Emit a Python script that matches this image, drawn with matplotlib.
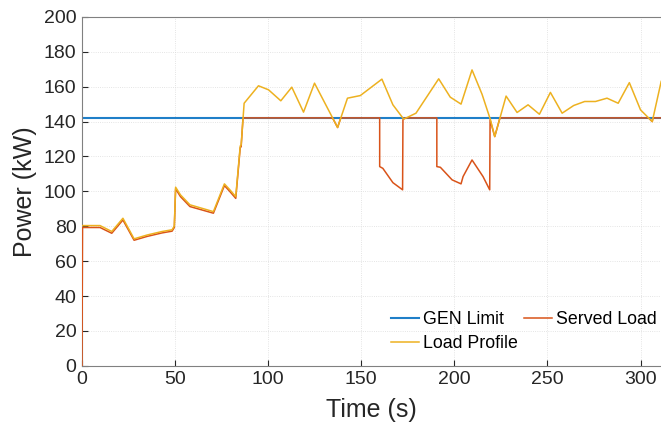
import matplotlib
matplotlib.use("Agg")
import matplotlib.pyplot as plt

# valeurs
gen_limit = 142.1

load_t = [0, 9.7, 16, 22, 28, 35, 43, 48.4, 49.6, 50.3, 52.9, 58, 70.6, 76.5, 79.2,
          82.6, 85, 85.5, 87.1, 94.8, 100.2, 106.8, 112.7, 119, 124.9, 137.3, 142.6,
          149.5, 161.1, 167, 172.8, 179.4, 191.6, 197.8, 203.6, 209.5, 214.9, 219.4,
          221.7, 227.8, 233.7, 239.6, 245.7, 251.6, 257.9, 264.1, 270, 275.8, 282,
          288, 294, 300, 306.3, 311.1]
load_p = [80.4, 80.4, 77, 84.6, 72.8, 75, 77, 78, 80.2, 102.4, 98, 92.3, 88.4, 104.3,
          101.2, 97, 126, 126.6, 150.5, 160.5, 158.2, 151.9, 159.7, 145.4, 162, 136.6,
          153.4, 154.9, 164.3, 149.6, 141.4, 144.8, 164.5, 154, 150, 169.6, 155.6, 141,
          131.4, 154.6, 145.2, 149.6, 144.2, 156.7, 144.8, 149.2, 151.5, 151.5, 153.4,
          150.5, 162.3, 146.7, 140, 163]

served_t = [0, 0.3, 9.7, 16, 22, 28, 35, 43, 48.4, 49.6, 50.3, 52.9, 58, 70.6, 76.5,
            79.2, 82.6, 85, 85.5, 86.5, 134.6, 137.3, 139.0, 159.9, 159.9, 161.6, 167,
            172.2, 172.4, 172.8, 173.5, 190.6, 190.6, 192.5, 198.8, 203.6, 204.7, 209.5,
            215.4, 219, 219.2, 221.7, 224.5, 304.3, 306.3, 306.7, 311.1]
served_p = [0, 79.3, 79.3, 76, 83.6, 72, 74.2, 76.2, 77.2, 79.3, 101.5, 97, 91.3, 87.5,
            103.3, 100.2, 96, 125, 125.6, 142.1, 142.1, 136.6, 142.1, 142.1, 114.2, 113.2,
            105, 100.9, 141, 141.4, 142.1, 142.1, 114.2, 113.8, 106.6, 104.3, 108.5, 118,
            108.5, 100.9, 141, 131.4, 142.1, 142.1, 140, 142.1, 142.1]

xticks = [0, 50, 100, 150, 200, 250, 300]
yticks = list(range(0, 201, 20))

plt.rcParams['font.family'] = ['Liberation Sans', 'DejaVu Sans']

fig = plt.figure(figsize=(6.61, 4.32), dpi=100)
ax = fig.add_axes([0.124, 0.153, 0.876, 0.808])

col_gen, col_srv, col_load = '#1f7fc8', '#D95319', '#EDB120'
h_gen = ax.axhline(gen_limit, color=col_gen, lw=1.5, label='GEN Limit', zorder=2)
h_srv, = ax.plot(served_t, served_p, color=col_srv, lw=1.1, label='Served Load', zorder=3)
h_load, = ax.plot(load_t, load_p, color=col_load, lw=1.1, label='Load Profile', zorder=4)

ax.set_xlim(0, 311)
ax.set_ylim(0, 200)
ax.set_xticks(xticks)
ax.set_yticks(yticks)
ax.tick_params(direction='in', length=4, labelsize=14, colors='#262626', pad=4)
ax.grid(True, color='#dcdcdc', lw=0.6, ls=':')
ax.set_axisbelow(True)
for sp in ax.spines.values():
    sp.set_color('#808080')
    sp.set_linewidth(0.8)
ax.spines['right'].set_visible(False)

ax.set_xlabel('Time (s)', fontsize=18, color='#262626', labelpad=7)
ax.set_ylabel('Power (kW)', fontsize=18, color='#262626', labelpad=5)

ax.legend([h_gen, h_load, h_srv], ['GEN Limit', 'Load Profile', 'Served Load'],
          ncol=2, loc='lower right', frameon=False, fontsize=12.8,
          handlelength=1.6, handletextpad=0.2, columnspacing=0.35,
          labelspacing=0.4, borderpad=0, borderaxespad=0,
          bbox_to_anchor=(0.992, 0.04))

fig.savefig('out.png', dpi=100)
